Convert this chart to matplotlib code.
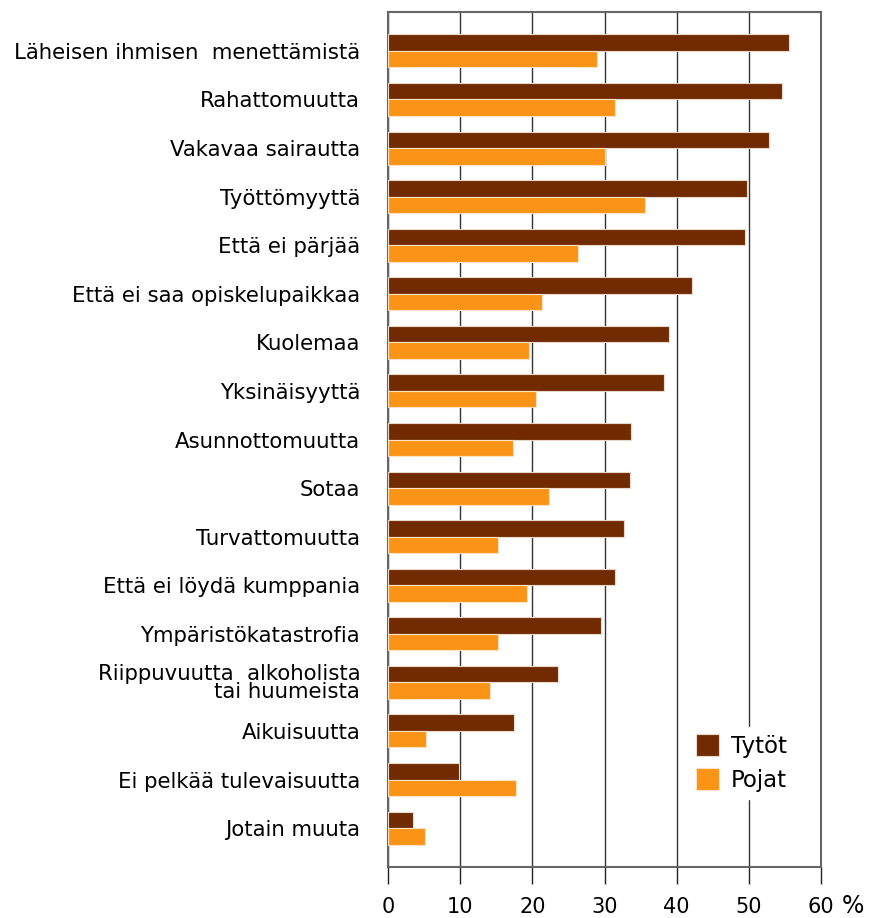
import numpy as np
import matplotlib
matplotlib.use("Agg")
import matplotlib.pyplot as plt

categories = [
    "Läheisen ihmisen  menettämistä",
    "Rahattomuutta",
    "Vakavaa sairautta",
    "Työttömyyttä",
    "Että ei pärjää",
    "Että ei saa opiskelupaikkaa",
    "Kuolemaa",
    "Yksinäisyyttä",
    "Asunnottomuutta",
    "Sotaa",
    "Turvattomuutta",
    "Että ei löydä kumppania",
    "Ympäristökatastrofia",
    "Riippuvuutta  alkoholista\ntai huumeista",
    "Aikuisuutta",
    "Ei pelkää tulevaisuutta",
    "Jotain muuta",
]
tytot = [55.6, 54.6, 52.8, 49.8, 49.4, 42.1, 39.0, 38.3, 33.7, 33.5, 32.7, 31.5,
         29.5, 23.6, 17.5, 9.9, 3.5]
pojat = [29.0, 31.5, 30.1, 35.6, 26.3, 21.4, 19.5, 20.5, 17.3, 22.3, 15.3, 19.3,
         15.3, 14.2, 5.3, 17.8, 5.1]
x_ticks = [0, 10, 20, 30, 40, 50, 60]

c_tytot = "#722b00"
c_pojat = "#fb9416"

plt.rcParams['font.family'] = ['DejaVu Sans']
fig = plt.figure(figsize=(8.72, 9.18), dpi=100)
ax = fig.add_axes([388 / 872, 1 - 867 / 918, (821 - 388) / 872, (867 - 12) / 918])

y = np.arange(len(categories))
h = 0.34
ax.barh(y - h / 2, tytot, height=h, color=c_tytot, edgecolor="#e9d9cd", linewidth=0.8,
        label="Tytöt", zorder=3)
ax.barh(y + h / 2, pojat, height=h, color=c_pojat, edgecolor="#fde3c4", linewidth=0.8,
        label="Pojat", zorder=3)

ax.set_xlim(0, 60)
ax.set_ylim(len(categories) - 0.2, -0.8)
ax.set_yticks(y)
ax.set_yticklabels(categories, fontsize=15.3, linespacing=0.85)
ax.tick_params(axis="y", length=0, pad=20)
ax.set_xticks(x_ticks)
ax.set_xticklabels([str(t) for t in x_ticks], fontsize=15)
ax.tick_params(axis="x", direction="out", length=12.5, width=1, color="#222222", pad=9)
ax.xaxis.grid(True, color="#333333", linewidth=1, zorder=1)
ax.set_axisbelow(True)
for s in ax.spines.values():
    s.set_color("#666666")
    s.set_linewidth(1.5)

fig.text(842 / 872, 1 - 906 / 918, "%", fontsize=17, ha="left", va="center")

leg = ax.legend(loc="lower left", bbox_to_anchor=(0.67, 0.066), frameon=True,
                fontsize=16.5, handlelength=1.0, handleheight=1.1,
                labelspacing=0.45, handletextpad=0.5, borderpad=0.3)
leg.get_frame().set_edgecolor("white")
leg.get_frame().set_facecolor("white")
leg.get_frame().set_alpha(1)

fig.savefig("out.png", dpi=100)
